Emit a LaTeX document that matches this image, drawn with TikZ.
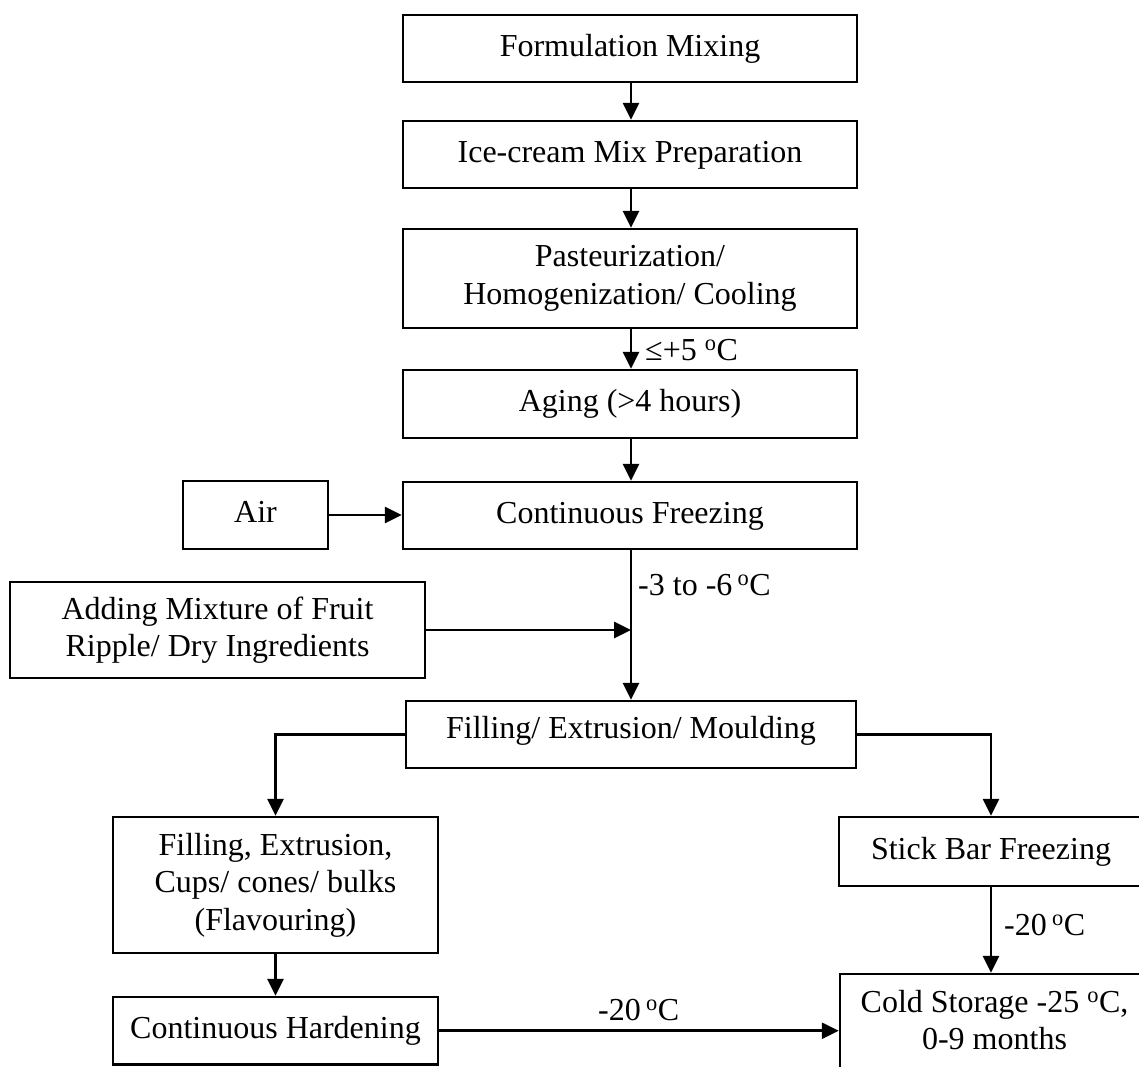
\documentclass[tikz,border=0pt]{standalone}
\usepackage{fontspec}
\setmainfont{Liberation Serif}
\usetikzlibrary{arrows.meta,calc}
\tikzset{
  box/.style={draw, line width=2.5pt, inner sep=0pt, align=center, font=\fontsize{32}{37.5}\selectfont},
  onebox/.style={box, text height=22pt, text depth=7pt},
  arr/.style={line width=2.7pt, -{Triangle[length=17pt,width=16pt]}},
  lbl/.style={font=\fontsize{32}{37.5}\selectfont, inner sep=0pt, anchor=base west},
}
\begin{document}
\begin{tikzpicture}[x=1pt,y=-1pt]
\useasboundingbox (0,0) rectangle (1139,1066);
\coordinate (mx) at (631,0);
% main column
\node[onebox, minimum width=454pt, minimum height=67pt] (b1) at (630,48.5) {Formulation Mixing};
\node[onebox, minimum width=454pt, minimum height=67pt] (b2) at (630,154.5) {Ice-cream Mix Preparation};
\node[box, minimum width=454pt, minimum height=99pt] (b3) at (630,278.5) {Pasteurization/\\Homogenization/ Cooling};
\node[onebox, minimum width=454pt, minimum height=68pt] (b4) at (630,404) {Aging (>4 hours)};
\node[onebox, minimum width=454pt, minimum height=67pt] (b5) at (630,515.5) {Continuous Freezing};
\node[onebox, minimum width=145pt, minimum height=68pt] (air) at (255.5,515) {Air};
\node[box, minimum width=415pt, minimum height=96pt] (add) at (217.5,630) {Adding Mixture of Fruit\\Ripple/ Dry Ingredients};
\node[box, text depth=15pt, minimum width=450pt, minimum height=67pt] (fill) at (631,734.5) {Filling/ Extrusion/ Moulding};
\node[box, minimum width=325pt, minimum height=136pt] (left) at (275.5,885) {Filling, Extrusion,\\Cups/ cones/ bulks\\(Flavouring)};
\node[onebox, minimum width=325pt, minimum height=67.5pt] (hard) at (275.5,1030.75) {Continuous Hardening};
\node[onebox, minimum width=304pt, minimum height=69pt] (stick) at (991,851.5) {Stick Bar Freezing};
\node[box, text height=75.5pt, text depth=82.5pt, minimum width=309pt] (cold) at (994.5,1053) {Cold Storage -25 \textsuperscript{o}C,\\0-9 months};
% labels
\node[lbl] (t1) at (645,360) {≤+5 \textsuperscript{o}C};
\node[lbl] (t2) at (638,595) {-3 to -6\,\textsuperscript{o}C};
\node[lbl] (t3) at (1004,935) {-20\,\textsuperscript{o}C};
\node[lbl] (t4) at (598,1020) {-20\,\textsuperscript{o}C};
% connectors
\draw[arr] (b1.south -| mx) -- (b2.north -| mx);
\draw[arr] (b2.south -| mx) -- (b3.north -| mx);
\draw[arr] (b3.south -| mx) -- (b4.north -| mx);
\draw[arr] (b4.south -| mx) -- (b5.north -| mx);
\draw[arr] (b5.south -| mx) -- (fill.north -| mx);
\draw[arr] (air.east) -- (air.east -| b5.west);
\draw[arr] (add.east) -- (add.east -| mx);
\draw[arr] (fill.west) -| (left.north);
\draw[arr] (fill.east) -| (stick.north);
\draw[arr] (left.south) -- (hard.north);
\draw[arr] (stick.south) -- (stick.south |- cold.north);
\draw[arr] (hard.east) -- (hard.east -| cold.west);
\end{tikzpicture}
\end{document}
